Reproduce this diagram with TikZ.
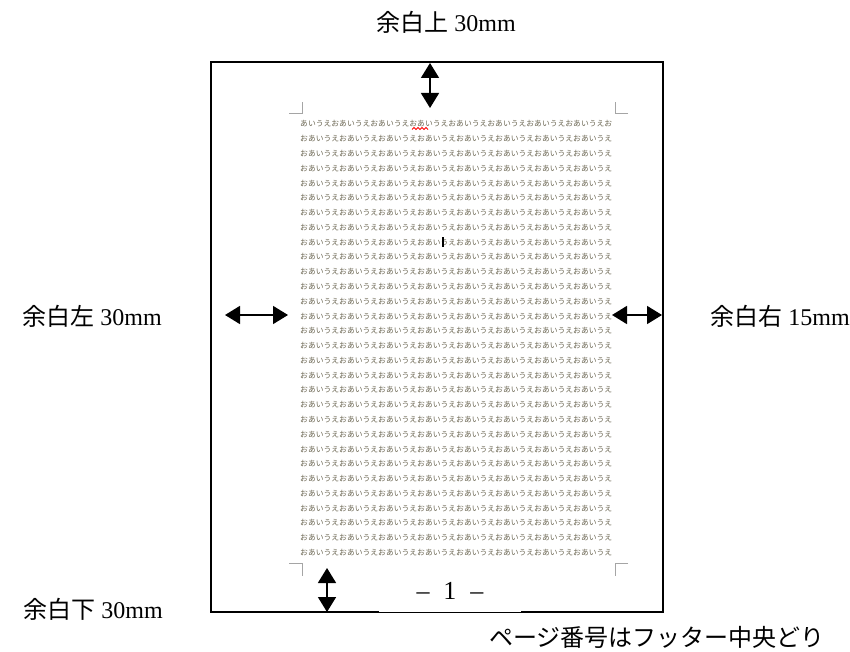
\documentclass[tikz,border=0pt]{standalone}
\usepackage{fontspec}
\setmainfont{Liberation Serif}
\newfontfamily\jp{Noto Sans CJK JP}
\usetikzlibrary{arrows.meta}
\definecolor{rowcol}{RGB}{110,105,85}
\definecolor{markcol}{RGB}{165,165,165}
\newcommand\rowtextA{あいうえおあいうえおあいうえおあいうえおあいうえおあいうえおあいうえおあいうえお}
\newcommand\rowtextB{おあいうえおあいうえおあいうえおあいうえおあいうえおあいうえおあいうえおあいうえ}
\begin{document}
\begin{tikzpicture}[x=1pt,y=-1pt,
  dimarrow/.style={line width=1.6pt,{Triangle[length=15pt,width=18pt]}-{Triangle[length=15pt,width=18pt]}},
  marginlabel/.style={inner sep=0pt,font=\fontsize{24}{26}\selectfont},
  rowline/.style={anchor=west,inner sep=0pt,text=rowcol,font=\jp\fontsize{7.8}{7.8}\selectfont},
  cropmark/.style={draw=markcol,line width=1pt},
  pageedge/.style={line width=1.8pt}]
\useasboundingbox[fill=white] (0,0) rectangle (850,652);

% page outline
\draw[pageedge] (379,612) -- (211,612) -- (211,62) -- (663,62) -- (663,612) -- (521,612);
\draw[line width=1pt] (379,612.5) -- (521,612.5);

% crop marks
\draw[cropmark] (289,114) -- (302,114) -- (302,102);
\draw[cropmark] (628,114) -- (615,114) -- (615,102);
\draw[cropmark] (289,563) -- (302,563) -- (302,576);
\draw[cropmark] (628,563) -- (615,563) -- (615,576);

% text rows
\node[rowline] (row1) at (300,124) {\rowtextA};
\foreach \i in {2,...,30}{
  \node[rowline] (row\i) at (300,{124+(\i-1)*14.78}) {\rowtextB};
}
% red squiggle
\draw[red,line width=0.8pt] (412,129.5) -- (414,127.5) -- (416,129.5) -- (418,127.5) -- (420,129.5) -- (422,127.5) -- (424,129.5) -- (426,127.5) -- (428,129.5);
% cursor
\fill[black] (441.7,237) rectangle (444.3,247);

% dimension arrows
\coordinate (topA) at (430,63);
\coordinate (topB) at (430,108);
\coordinate (leftA) at (225,315);
\coordinate (leftB) at (288,315);
\coordinate (rightA) at (612,315);
\coordinate (rightB) at (662,315);
\coordinate (botA) at (327,568);
\coordinate (botB) at (327,612);
\draw[dimarrow] (topA) -- (topB);
\draw[dimarrow] (leftA) -- (leftB);
\draw[dimarrow] (rightA) -- (rightB);
\draw[dimarrow] (botA) -- (botB);

% labels
\node[marginlabel] (ltop) at (446,22) {{\jp 余白上} 30mm};
\node[marginlabel] (lleft) at (92,316) {{\jp 余白左} 30mm};
\node[marginlabel] (lright) at (780,316) {{\jp 余白右} 15mm};
\node[marginlabel] (lbot) at (93,609) {{\jp 余白下} 30mm};
\node[marginlabel] (lnote) at (657,637) {\jp ページ番号はフッター中央どり};
\node[inner sep=0pt,font=\fontsize{26}{28}\selectfont] (pagenum) at (450,591) {–\hspace{14pt}1\hspace{14pt}–};
\end{tikzpicture}
\end{document}
